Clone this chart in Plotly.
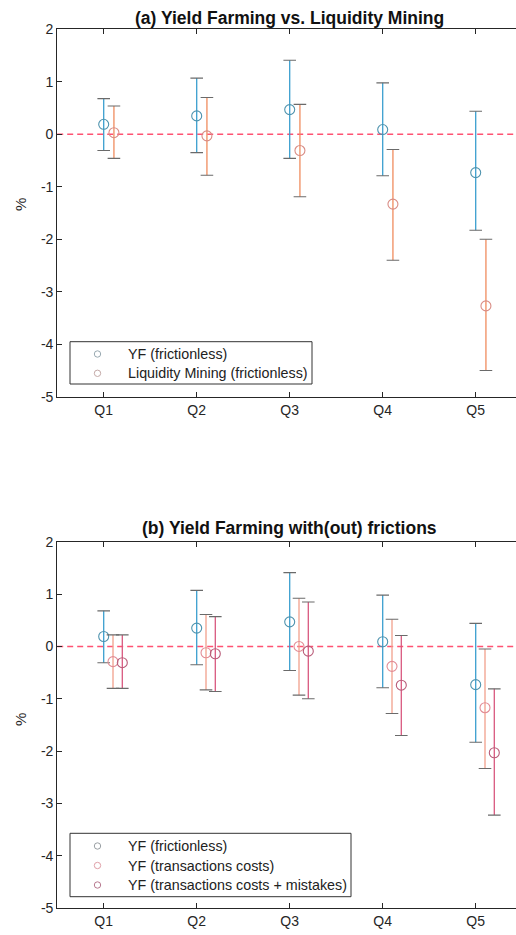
import numpy as np
import plotly.graph_objects as go

# ---------------- data ----------------
quintiles = ["Q1", "Q2", "Q3", "Q4", "Q5"]

yf_mean = [0.19, 0.35, 0.47, 0.09, -0.73]
yf_hi = [0.68, 1.07, 1.41, 0.98, 0.44]
yf_lo = [-0.31, -0.35, -0.46, -0.79, -1.83]

lm_mean = [0.03, -0.03, -0.31, -1.33, -3.27]
lm_hi = [0.54, 0.70, 0.57, -0.29, -2.00]
lm_lo = [-0.46, -0.78, -1.19, -2.40, -4.50]

tc_mean = [-0.29, -0.12, 0.00, -0.38, -1.17]
tc_hi = [0.22, 0.61, 0.92, 0.52, -0.05]
tc_lo = [-0.80, -0.83, -0.93, -1.28, -2.33]

tcm_mean = [-0.31, -0.14, -0.09, -0.74, -2.03]
tcm_hi = [0.22, 0.57, 0.85, 0.21, -0.81]
tcm_lo = [-0.80, -0.86, -1.00, -1.70, -3.22]

y_ticks = [-5, -4, -3, -2, -1, 0, 1, 2]

legend_a = ["YF (frictionless)", "Liquidity Mining (frictionless)"]
legend_b = ["YF (frictionless)", "YF (transactions costs)", "YF (transactions costs + mistakes)"]

# ---------------- styling ----------------
W, H = 516, 935
FONT = "Liberation Sans, Arial, Helvetica, sans-serif"
AX = "#262626"
CAP = "#6a6a6a"
ZERO = "#FF5272"

C_YF, M_YF = "#3B9FCF", "#4E93AE"
C_LM, M_LM = "#F08C5E", "#D98C84"
C_TC, M_TC = "#F2A08C", "#E28C95"
C_TCM, M_TCM = "#D9587F", "#B85C79"

x_base = np.arange(1, len(quintiles) + 1)

fig = go.Figure()


def add_series(x, mean, hi, lo, color, mcolor, xa, ya):
    mean = np.array(mean)
    hi = np.array(hi)
    lo = np.array(lo)
    fig.add_trace(go.Scatter(
        x=x, y=mean, mode="markers", showlegend=False, xaxis=xa, yaxis=ya,
        marker=dict(symbol="circle-open", size=10, color=mcolor, line=dict(width=1.1, color=mcolor)),
        error_y=dict(type="data", symmetric=False, array=hi - mean, arrayminus=mean - lo,
                     color=color, thickness=1.3, width=0),
    ))
    capx = np.concatenate([x, x])
    capy = np.concatenate([hi, lo])
    fig.add_trace(go.Scatter(
        x=capx, y=capy, mode="markers", showlegend=False, xaxis=xa, yaxis=ya, hoverinfo="skip",
        marker=dict(symbol="line-ew-open", size=9, color=CAP, line=dict(width=1.1, color=CAP)),
    ))


# panel (a)
add_series(x_base + 0.0, yf_mean, yf_hi, yf_lo, C_YF, M_YF, "x", "y")
add_series(x_base + 0.11, lm_mean, lm_hi, lm_lo, C_LM, M_LM, "x", "y")

# panel (b)
add_series(x_base + 0.0, yf_mean, yf_hi, yf_lo, C_YF, M_YF, "x2", "y2")
add_series(x_base + 0.10, tc_mean, tc_hi, tc_lo, C_TC, M_TC, "x2", "y2")
add_series(x_base + 0.20, tcm_mean, tcm_hi, tcm_lo, C_TCM, M_TCM, "x2", "y2")

# pixel geometry helpers
left_px = 57.2
q_step = 93.0
x_range = [0.5, 0.5 + (W - left_px) / q_step]
xdom = [left_px / W, 1.0]


def ydom(top_px, bot_px):
    return [(H - bot_px) / H, (H - top_px) / H]


def px(xp):
    return xp / W


def py(yp):
    return (H - yp) / H


xcommon = dict(
    range=x_range, domain=xdom, tickmode="array", tickvals=list(x_base), ticktext=quintiles,
    showline=True, linecolor=AX, linewidth=1, mirror="ticks", ticks="inside", ticklen=5,
    tickcolor=AX, showgrid=False, zeroline=False, automargin=False,
    tickfont=dict(family=FONT, size=14, color=AX), fixedrange=True,
)
ycommon = dict(
    range=[-5, 2], tickmode="array", tickvals=y_ticks, ticktext=[str(v) for v in y_ticks],
    showline=True, linecolor=AX, linewidth=1, mirror=False, ticks="inside", ticklen=5,
    tickcolor=AX, showgrid=False, zeroline=False, automargin=False,
    tickfont=dict(family=FONT, size=14, color=AX), fixedrange=True,
)

fig.update_layout(
    width=W, height=H,
    margin=dict(l=0, r=0, t=0, b=0),
    paper_bgcolor="white", plot_bgcolor="white",
    font=dict(family=FONT, size=14, color=AX),
    xaxis=dict(**xcommon, anchor="y"),
    yaxis=dict(**ycommon, domain=ydom(29.3, 396.7), anchor="x"),
    xaxis2=dict(**xcommon, anchor="y2"),
    yaxis2=dict(**ycommon, domain=ydom(541.7, 908.3), anchor="x2"),
    showlegend=False,
)

# zero lines
for xr, yr in [("x", "y"), ("x2", "y2")]:
    fig.add_shape(type="line", xref=f"{xr} domain", yref=yr, x0=0, x1=1, y0=0, y1=0,
                  line=dict(color=ZERO, width=1.4, dash="6px,4px"), layer="below")

# titles and y labels
title_x = (left_px + (left_px + 5 * q_step)) / 2 / W
fig.add_annotation(text="<b>(a) Yield Farming vs. Liquidity Mining</b>", x=title_x, y=py(18),
                   xref="paper", yref="paper", showarrow=False, font=dict(family=FONT, size=17.5, color="#111"),
                   xanchor="center", yanchor="middle")
fig.add_annotation(text="<b>(b) Yield Farming with(out) frictions</b>", x=title_x, y=py(528),
                   xref="paper", yref="paper", showarrow=False, font=dict(family=FONT, size=17.5, color="#111"),
                   xanchor="center", yanchor="middle")
for ypx in [205, 720]:
    fig.add_annotation(text="%", x=px(20), y=py(ypx), xref="paper", yref="paper",
                       showarrow=False, textangle=-90, font=dict(family=FONT, size=15, color=AX),
                       xanchor="center", yanchor="middle")


# manual legends (box, small open circle glyphs, text)
def draw_legend(box, rows_y, labels, glyph_colors):
    x0, y0, x1, y1 = box
    fig.add_shape(type="rect", xref="paper", yref="paper", x0=px(x0), x1=px(x1), y0=py(y1), y1=py(y0),
                  line=dict(color="#333333", width=1), fillcolor="white", layer="above")
    for yy, lab, gc in zip(rows_y, labels, glyph_colors):
        r = 3.2
        fig.add_shape(type="circle", xref="paper", yref="paper",
                      x0=px(97.5 - r), x1=px(97.5 + r), y0=py(yy + r), y1=py(yy - r),
                      line=dict(color=gc, width=1), layer="above")
        fig.add_annotation(text=lab, x=px(126), y=py(yy), xref="paper", yref="paper", showarrow=False,
                           xanchor="left", yanchor="middle", font=dict(family=FONT, size=14.3, color="#222"))


draw_legend((70, 341.7, 312, 384), [354, 373.3], legend_a, ["#9aaab2", "#c4aaa8"])
draw_legend((70, 833.3, 351, 896.7), [846, 865.5, 885], legend_b, ["#9aa0a4", "#e0a0a8", "#b87a90"])

fig.write_html("out.html")
